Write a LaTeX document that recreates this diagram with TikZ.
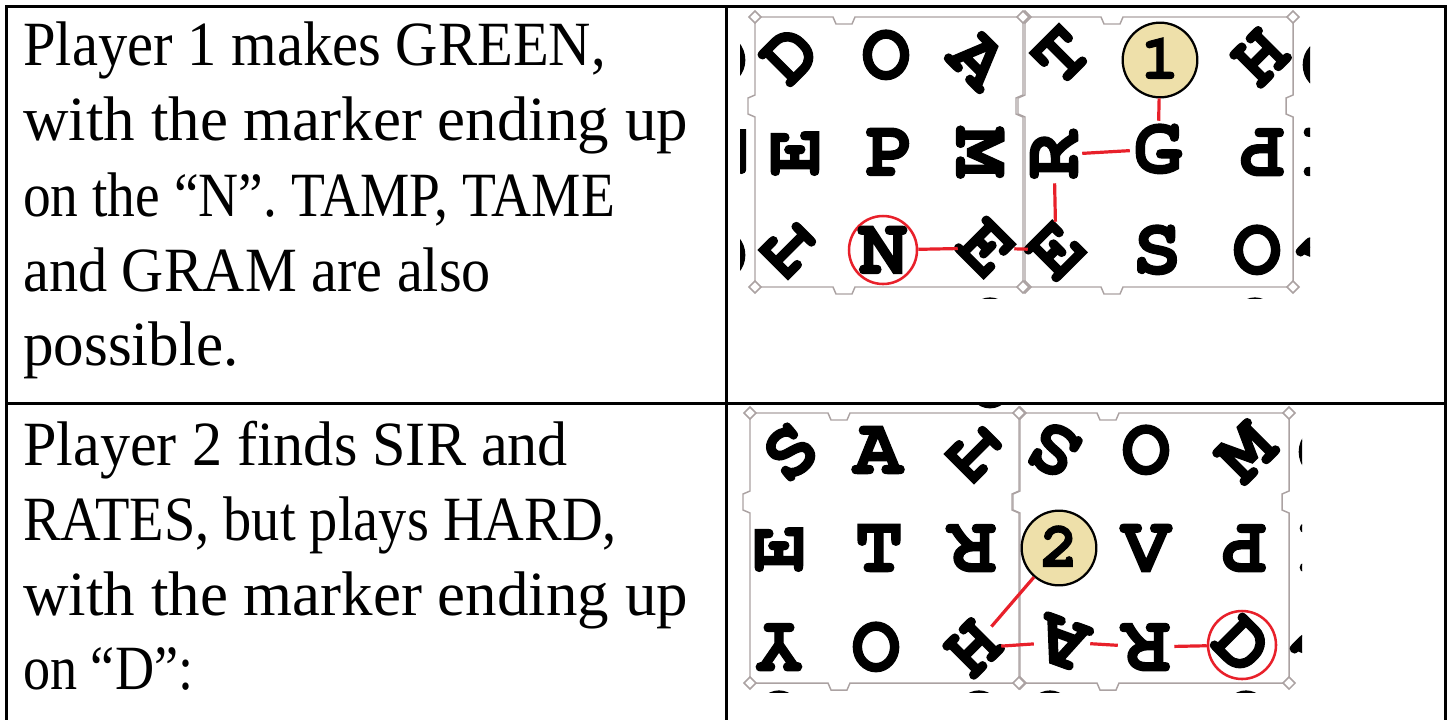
\documentclass[tikz,border=0pt]{standalone}
\usepackage{fontspec}
\usepackage{graphicx}
\setmainfont{Liberation Serif}
\newfontfamily\gridfont[FakeBold=1.6]{texgyrecursor-bold.otf}
\definecolor{mkred}{HTML}{E8202A}
\definecolor{mkfill}{HTML}{EEE0AA}
\definecolor{tilegray}{HTML}{ABA2A2}
\newcommand\glyphc[1]{\makebox[0pt]{\raisebox{-0.29em}[0pt][0pt]{#1}}}
\newcommand\sx[2]{\scalebox{#1}[1]{#2}}
\tikzset{
  tablerule/.style={line width=2.25pt, black, line cap=rect},
  bodytext/.style={anchor=base west, inner sep=0pt, font=\fontsize{47.25}{56}\selectfont},
  tl/.style={circle, inner sep=0pt, minimum size=42pt, font=\fontsize{61}{61}\selectfont\gridfont},
  redring/.style={tl, draw=mkred, line width=1.9pt, minimum size=51pt},
  numdisc/.style={circle, draw=black, line width=1.7pt, fill=mkfill, inner sep=0pt, minimum size=56pt, font=\fontsize{48}{48}\selectfont\gridfont},
  redlink/.style={draw=mkred, line width=2.4pt},
  tileedge/.style={draw=tilegray, line width=1.1pt},
  tile/.pic={
    \draw[tileedge] (0,0) -- (78,0) -- (81,7) -- (97,7) -- (100,0) -- (270,0)
      -- (270,78) -- (263,81) -- (263,97) -- (270,100) -- (270,270)
      -- (100,270) -- (97,277) -- (81,277) -- (78,270) -- (0,270)
      -- (0,100) -- (-7,97) -- (-7,81) -- (0,78) -- cycle;
    \foreach \cx/\cy in {0/0,270/0,0/270,270/270}{
      \draw[tileedge, fill=white] (\cx,\cy) +(-6,0) -- +(0,-6) -- +(6,0) -- +(0,6) -- cycle;
    }
  }
}
\begin{document}
\begin{tikzpicture}[x=0.75pt,y=-0.75pt]
\useasboundingbox (0,0) rectangle (1448,719);
% table rules
\draw[tablerule] (6,719) -- (6,6) -- (1445,6) -- (1445,719);
\draw[tablerule] (726,6) -- (726,719);
\draw[tablerule] (6,403) -- (1445,403);
% left column text
\node[bodytext] (t1a) at (23,65) {\sx{0.93}{Player 1 makes GREEN,}};
\node[bodytext] (t1b) at (23,140) {\sx{1.0}{with the marker ending up}};
\node[bodytext] (t1c) at (23,216) {\sx{0.88}{on the “N”. TAMP, TAME}};
\node[bodytext] (t1d) at (23,291) {\sx{0.925}{and GRAM are also}};
\node[bodytext] (t1e) at (23,365) {\sx{0.97}{possible.}};
\node[bodytext] (t2a) at (23,465) {\sx{0.955}{Player 2 finds SIR and}};
\node[bodytext] (t2b) at (23,540) {\sx{0.895}{RATES, but plays HARD,}};
\node[bodytext] (t2c) at (23,615) {\sx{1.0}{with the marker ending up}};
\node[bodytext] (t2d) at (23,689) {\sx{0.86}{on “D”:}};
% ---------- grid 1 ----------
\begin{scope}
\clip (740,9) rectangle (1310,298);
\pic at (755,17) {tile};
\pic at (1023,17) {tile};
% partial letters from neighbouring tiles
\node[tl] (p1) at (722,60) {\glyphc{O}};
\node[tl, rotate=90] (p2) at (722,150) {\glyphc{E}};
\node[tl] (p3) at (722,255) {\glyphc{O}};
\node[tl] (p4) at (1326,65) {\glyphc{O}};
\node[tl] (p5) at (1322,152) {\glyphc{I}};
\node[tl, rotate=45] (p6) at (1330,250) {\glyphc{V}};
\node[tl] (p7) at (1257,-18) {\glyphc{O}};
\node[tl] (p8) at (990,323) {\glyphc{O}};
\node[tl] (p9) at (1255,323) {\glyphc{O}};
% letters
\node[tl, rotate=45] (a1) at (790,55) {\glyphc{D}};
\node[tl] (a2) at (886,55) {\glyphc{O}};
\node[tl, rotate=-45] (a3) at (978,60) {\glyphc{A}};
\node[tl, rotate=45] (a4) at (1061,55) {\glyphc{T}};
\node[tl, rotate=45] (a6) at (1260,57) {\glyphc{H}};
\node[tl, rotate=90] (b1) at (795,152) {\glyphc{E}};
\node[tl] (b2) at (890,152) {\glyphc{P}};
\node[tl, rotate=-90] (b3) at (980,152) {\glyphc{M}};
\node[tl, rotate=90] (b4) at (1054,155) {\glyphc{R}};
\node[tl] (b5) at (1158,149) {\glyphc{G}};
\node[tl, rotate=180] (b6) at (1260,152) {\glyphc{P}};
\node[tl, rotate=135] (c1) at (790,248) {\glyphc{T}};
\node[redring] (c2) at (883,250) {\glyphc{N}};
\node[tl, rotate=-45] (c3) at (986,248) {\glyphc{E}};
\node[tl, rotate=45] (c4) at (1056,250) {\glyphc{E}};
\node[tl] (c5) at (1157,250) {\glyphc{S}};
\node[tl] (c6) at (1257,250) {\glyphc{O}};
\node[numdisc] (m1) at (1160,60) {\glyphc{1}};
\draw[redlink] (c2) -- (c3);
\draw[redlink] (c3) -- (c4);
\draw[redlink] (c4) -- (b4);
\draw[redlink] (b4) -- (b5);
\draw[redlink] (b5) -- (m1);
\end{scope}
% ---------- grid 2 ----------
\begin{scope}
\clip (740,405) rectangle (1302,692);
\pic at (750,413) {tile};
\pic at (1019,413) {tile};
\node[tl] (q1) at (990,383) {\glyphc{O}};
\node[tl] (q2) at (1322,452) {\glyphc{O}};
\node[tl] (q3) at (1318,548) {\glyphc{I}};
\node[tl, rotate=45] (q4) at (1324,647) {\glyphc{V}};
\node[tl] (q5) at (779,716) {\glyphc{O}};
\node[tl] (q6) at (979,716) {\glyphc{O}};
\node[tl] (q7) at (1050,716) {\glyphc{O}};
\node[tl] (q8) at (1246,716) {\glyphc{O}};
\node[tl, rotate=40] (d1) at (790,452) {\glyphc{S}};
\node[tl] (d2) at (878,450) {\glyphc{A}};
\node[tl, rotate=135] (d3) at (976,452) {\glyphc{T}};
\node[tl, rotate=150] (d4) at (1055,450) {\glyphc{S}};
\node[tl] (d5) at (1146,450) {\glyphc{O}};
\node[tl, rotate=45] (d6) at (1246,452) {\glyphc{M}};
\node[tl, rotate=90] (e1) at (779,548) {\glyphc{E}};
\node[tl] (e2) at (879,548) {\glyphc{T}};
\node[tl, rotate=180] (e3) at (972,548) {\glyphc{R}};
\node[tl] (e5) at (1146,548) {\glyphc{V}};
\node[tl, rotate=180] (e6) at (1242,548) {\glyphc{P}};
\node[tl, rotate=180] (f1) at (779,647) {\glyphc{Y}};
\node[tl] (f2) at (876,647) {\glyphc{O}};
\node[tl, rotate=45] (f3) at (973,648) {\glyphc{H}};
\node[tl, rotate=160] (f4) at (1062,642) {\glyphc{A}};
\node[tl, rotate=180] (f5) at (1146,647) {\glyphc{R}};
\node[redring, rotate=-45] (f6) at (1242,645) {\glyphc{D}};
\node[numdisc] (m2) at (1059,548) {\glyphc{2}};
\draw[redlink] (m2) -- (f3);
\draw[redlink] (f3) -- (f4);
\draw[redlink] (f4) -- (f5);
\draw[redlink] (f5) -- (f6);
\end{scope}
\end{tikzpicture}
\end{document}
